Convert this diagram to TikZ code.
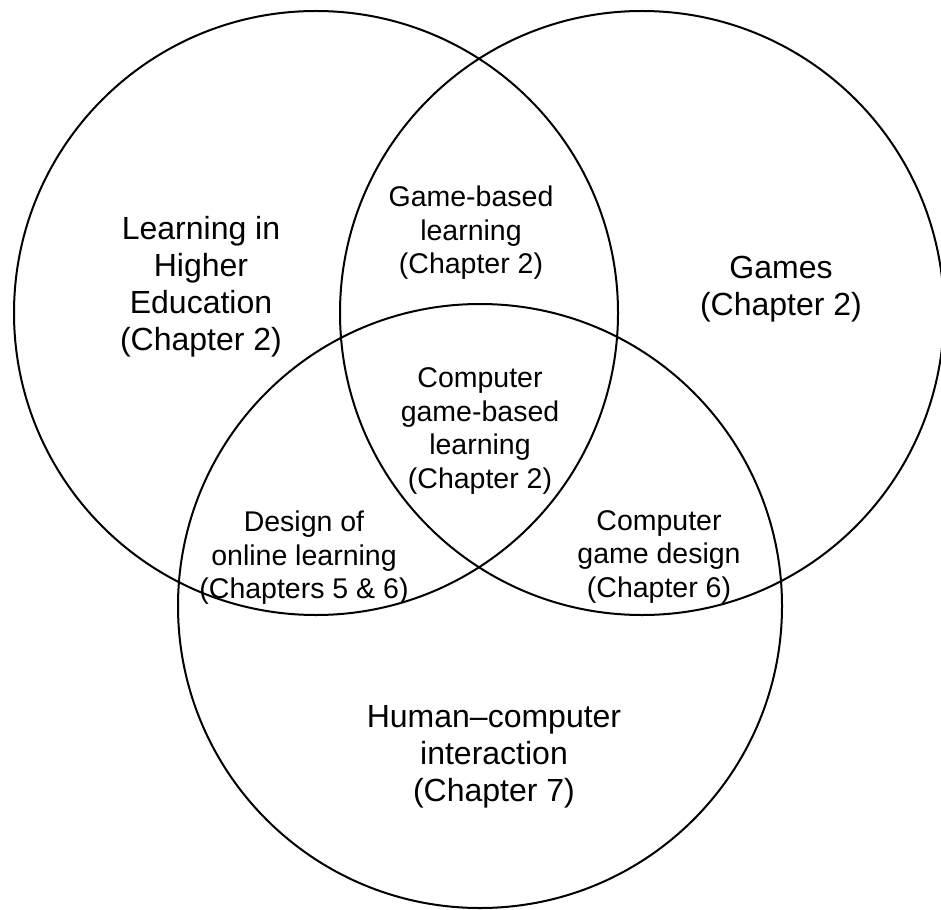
\documentclass[tikz,border=0pt]{standalone}
\usepackage{fontspec}
\setmainfont{Liberation Sans}
\usepackage{tikz}

\begin{document}
\begin{tikzpicture}[x=1pt,y=-1pt,
		bigset/.style={circle,draw,line width=2pt,minimum size=604pt,inner sep=0pt},
		outerlabel/.style={align=center,font=\fontsize{32}{37}\selectfont},
		innerlabel/.style={align=center,font=\fontsize{28.5}{33.5}\selectfont}
		]
		\useasboundingbox (0,0) rectangle (941,909);

		% the three sets
		\node[bigset](Lhe) at (316,313){};
		\node[bigset](Gam) at (642,313){};
		\node[bigset](Hci) at (480,606){};

		% labels of the sets
		\node[outerlabel](LheT) at (201,287){Learning in\\Higher\\Education\\(Chapter 2)};
		\node[outerlabel](GamT) at (781,289){Games\\(Chapter 2)};
		\node[outerlabel](HciT) at (494,757){Human--computer\\interaction\\(Chapter 7)};

		% labels of the overlaps
		\node[innerlabel](LheGam) at (471,233){Game-based\\learning\\(Chapter 2)};
		\node[innerlabel](All) at (480,431){Computer\\game-based\\learning\\(Chapter 2)};
		\node[innerlabel](LheHci) at (304,558){Design of\\online learning\\(Chapters 5 \& 6)};
		\node[innerlabel](GamHci) at (659,557){Computer\\game design\\(Chapter 6)};
	\end{tikzpicture}
\end{document}
